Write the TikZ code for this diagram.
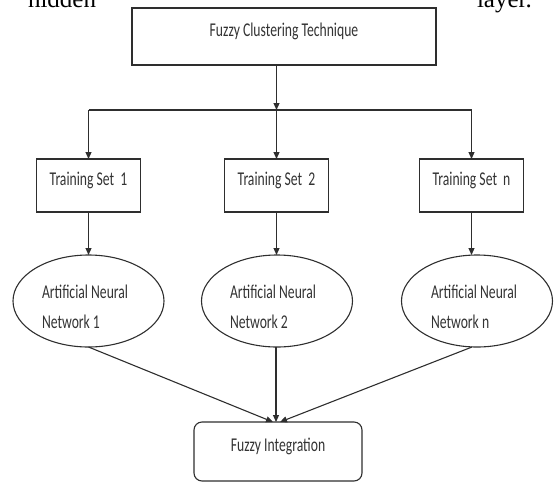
\documentclass[tikz,border=0pt]{standalone}
\usepackage{fontspec}
\setmainfont{Liberation Serif}
\newfontfamily\diagfont[FakeStretch=0.7]{Carlito}
\usetikzlibrary{shapes.geometric,arrows.meta}

\definecolor{linec}{HTML}{2E2E2E}
\definecolor{textc}{HTML}{333333}

\begin{document}
\begin{tikzpicture}[x=1pt,y=-1pt,
  every node/.style={inner sep=0pt, outer sep=0pt},
  lbl/.style={text=textc, font=\diagfont\fontsize{19.5}{23}\selectfont},
  stepbox/.style={draw=linec, line width=1.1pt, rectangle, lbl,
    text height=6pt, text depth=6pt},
  roundbox/.style={stepbox, rounded corners=8pt},
  netnode/.style={draw=linec, line width=1.1pt, ellipse,
    minimum width=151pt, minimum height=92pt},
  conn/.style={draw=linec, line width=1.1pt},
  arr/.style={conn, -{Triangle[length=7pt,width=6pt]}},
  bodytext/.style={text=black, font=\fontsize{25}{30}\selectfont}
]
\useasboundingbox (0,0) rectangle (554,485);
\clip (0,0) rectangle (554,485);

% running text of the surrounding page
\node[bodytext, anchor=base west] (hid) at (28,7) {hidden};
\node[bodytext, anchor=base west] (lay) at (477,7) {layer.};

% clustering stage
\node[stepbox, minimum width=304pt, minimum height=57pt] (top) at (284,36.5)
  {Fuzzy Clustering Technique};

% training sets
\node[stepbox, minimum width=104pt, minimum height=53pt] (ts1) at (88.5,185.5)
  {Training Set\ \ 1};
\node[stepbox, minimum width=104pt, minimum height=53pt] (ts2) at (276.5,185.5)
  {Training Set\ \ 2};
\node[stepbox, minimum width=104pt, minimum height=53pt] (ts3) at (471.5,185.5)
  {Training Set\ \ n};

% neural networks
\node[netnode] (e1) at (88.5,301) {};
\node[netnode] (e2) at (277,301) {};
\node[netnode] (e3) at (477,301) {};
\node[lbl, anchor=base west] (e1a) at (42,298.5) {Artificial Neural};
\node[lbl, anchor=base west] (e1b) at (42,328.5) {Network 1};
\node[lbl, anchor=base west] (e2a) at (230,298.5) {Artificial Neural};
\node[lbl, anchor=base west] (e2b) at (230,328.5) {Network 2};
\node[lbl, anchor=base west] (e3a) at (431,298.5) {Artificial Neural};
\node[lbl, anchor=base west] (e3b) at (431,328.5) {Network n};

% integration stage
\node[roundbox, minimum width=168pt, minimum height=59pt] (fi) at (278,451.5)
  {Fuzzy Integration};

% distribution bus
\coordinate (busL) at (88.5,110);
\coordinate (busR) at (471.5,110);
\coordinate (busM) at (276.5,110);
\draw[conn] (busL) -- (busR);
\draw[arr] (top.south -| busM) -- (busM);
\draw[arr] (busL) -- (ts1.north);
\draw[arr] (busM) -- (ts2.north);
\draw[arr] (busR) -- (ts3.north);

% training sets to networks
\draw[arr] (ts1.south) -- (ts1.south |- e1.north);
\draw[arr] (ts2.south) -- (ts2.south |- e2.north);
\draw[arr] (ts3.south) -- (ts3.south |- e3.north);

% networks to integration
\coordinate (in1) at ([xshift=-5pt]fi.north);
\coordinate (in2) at ([xshift=-2pt]fi.north);
\coordinate (in3) at ([xshift=2pt]fi.north);
\draw[arr] (e1.south) -- (in1);
\draw[arr] (e2.south -| in2) -- (in2);
\draw[arr] ([xshift=-5pt]e3.south) -- (in3);
\end{tikzpicture}
\end{document}
